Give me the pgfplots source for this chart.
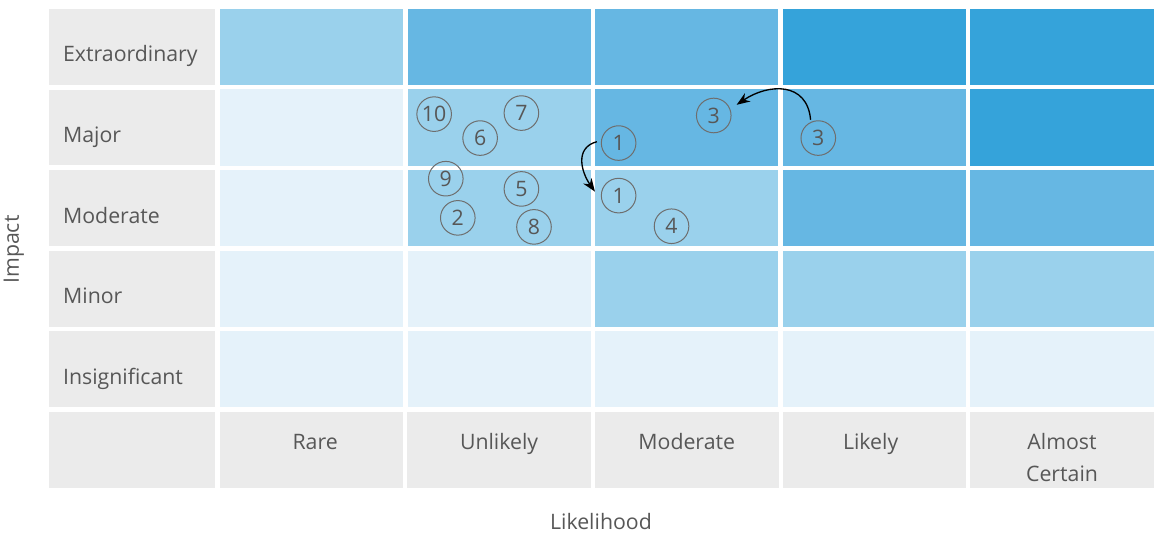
\documentclass[border=0pt]{standalone}
\usepackage{pgfplots}
\pgfplotsset{compat=1.18}
\usepackage{pgfplotstable}
\usepackage{fontspec}
\setmainfont{Open Sans}
\usetikzlibrary{arrows.meta}

\definecolor{cellgray}{HTML}{EBEBEB}
\definecolor{txt}{HTML}{575757}
\definecolor{ring}{HTML}{6E6E6E}

% risk level of each cell: likelihood (1-5), impact (1-5), level (0-3)
\pgfplotstableread{
lik imp lvl
1 1 0
2 1 0
3 1 0
4 1 0
5 1 0
1 2 0
2 2 0
3 2 1
4 2 1
5 2 1
1 3 0
2 3 1
3 3 1
4 3 2
5 3 2
1 4 0
2 4 1
3 4 2
4 4 2
5 4 3
1 5 1
2 5 2
3 5 2
4 5 3
5 5 3
}\levels

% individual risks placed in the matrix
\pgfplotstableread{
id lik imp
10 1.654 4.166
7 2.119 4.179
6 1.899 3.869
1 2.637 3.807
3 3.144 4.149
3 3.701 3.869
9 1.716 3.365
5 2.119 3.238
2 1.780 2.879
8 2.186 2.767
1 2.637 3.155
4 2.919 2.775
}\risks

\tikzset{lab/.style={text=txt, inner sep=0pt}}

\begin{document}
\begin{tikzpicture}
\begin{axis}[
  scale only axis,
  width=870pt, height=401.25pt,
  xmin=-0.6596, xmax=5.5106,
  ymin=-1.0433, ymax=5.582,
  hide axis, clip=false,
  colormap={risk}{rgb255=(229,242,250) rgb255=(154,209,236) rgb255=(102,183,227) rgb255=(53,163,218)},
  colormap access=direct,
  font=\fontsize{16}{19}\selectfont,
]
\path (rel axis cs:0,0) rectangle (rel axis cs:1,1);

% label cells
\pgfplotsinvokeforeach{1,...,5}{
  \fill[cellgray] (axis cs:-0.399,#1-0.4706) rectangle (axis cs:0.484,#1+0.4706);
  \fill[cellgray] (axis cs:#1-0.4894,-0.4706) rectangle (axis cs:#1+0.4894,0.4706);
}
\fill[cellgray] (axis cs:-0.399,-0.4706) rectangle (axis cs:0.484,0.4706);

% coloured risk cells
\addplot[matrix plot*, mesh/cols=5, point meta=explicit]
  table[x=lik, y=imp, meta=lvl] {\levels};

% white separators between cells
\pgfplotsinvokeforeach{0,...,5}{
  \draw[white, line width=3.4pt] (axis cs:#1+0.5,0.47) -- (axis cs:#1+0.5,5.53);
  \draw[white, line width=3.4pt] (axis cs:0.49,#1+0.5) -- (axis cs:5.51,#1+0.5);
}

% row headings
\node[lab, anchor=base west] at (axis cs:-0.3245,0.814) {Insignificant};
\node[lab, anchor=base west] at (axis cs:-0.3245,1.814) {Minor};
\node[lab, anchor=base west] at (axis cs:-0.3245,2.814) {Moderate};
\node[lab, anchor=base west] at (axis cs:-0.3245,3.814) {Major};
\node[lab, anchor=base west] at (axis cs:-0.3245,4.814) {Extraordinary};

% column headings
\node[lab, anchor=base] at (axis cs:1.02,0) {Rare};
\node[lab, anchor=base] at (axis cs:2,0) {Unlikely};
\node[lab, anchor=base] at (axis cs:3,0) {Moderate};
\node[lab, anchor=base] at (axis cs:3.98,0) {Likely};
\node[lab, anchor=base] at (axis cs:5,0) {Almost};
\node[lab, anchor=base] at (axis cs:5,-0.3876) {Certain};

% axis titles
\node[lab, anchor=base, rotate=90] at (axis cs:-0.5585,2.486) {Impact};
\node[lab, anchor=base] at (axis cs:2.543,-0.990) {Likelihood};

% risks
\addplot[only marks, mark=o, mark size=13pt,
  mark options={draw=ring, line width=0.75pt},
  nodes near coords, point meta=explicit symbolic,
  nodes near coords align=center,
  every node near coord/.append style={text=txt, inner sep=0pt, anchor=center}]
  table[x=lik, y=imp, meta=id] {\risks};

% movement arrows
\draw[line width=1pt, -{Stealth[length=10pt, width=7.5pt]}]
  (axis cs:3.660,4.096) to[out=95, in=34, looseness=1.3] (axis cs:3.266,4.282);
\draw[line width=1pt, -{Stealth[length=10pt, width=7.5pt]}]
  (axis cs:2.521,3.824) to[out=195, in=125, looseness=1.2] (axis cs:2.511,3.204);
\end{axis}
\end{tikzpicture}
\end{document}
